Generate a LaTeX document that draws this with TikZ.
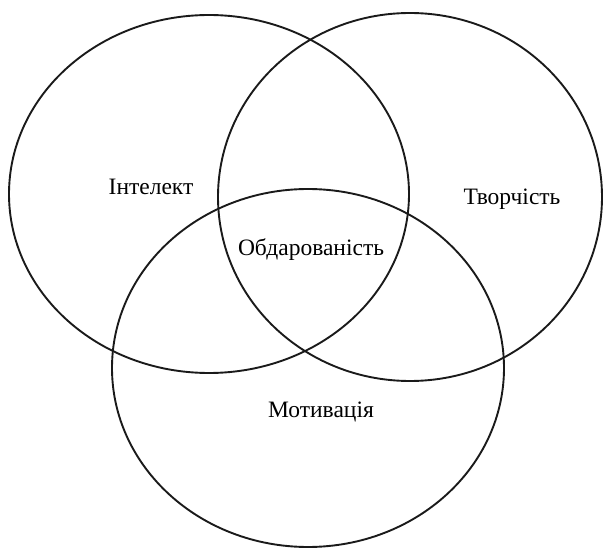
\documentclass[tikz,border=0pt]{standalone}
\usepackage{fontspec}
\setmainfont{Liberation Serif}
\usepackage{tikz}
\definecolor{VennInk}{HTML}{1A1A1A}

\begin{document}
\begin{tikzpicture}[x=1pt, y=-1pt, font=\fontsize{23.5}{28}\selectfont,
  ring/.style={draw=VennInk, line width=1.9pt},
  label/.style={text=black, inner sep=0pt}]
  \useasboundingbox (0,0) rectangle (603,548);
  % the three sets
  \draw[ring] (209,194) ellipse [x radius=200pt, y radius=179pt];
  \draw[ring] (410,197) ellipse [x radius=192pt, y radius=184pt];
  \draw[ring] (308,368) ellipse [x radius=196pt, y radius=179pt];
  % set labels
  \node[label] (intel) at (151,187) {Інтелект};
  \node[label] (tvor) at (512,199) {Творчість};
  \node[label] (motiv) at (321,412) {Мотивація};
  % the common part
  \node[label] (obdar) at (311,250) {Обдарованість};
\end{tikzpicture}
\end{document}
